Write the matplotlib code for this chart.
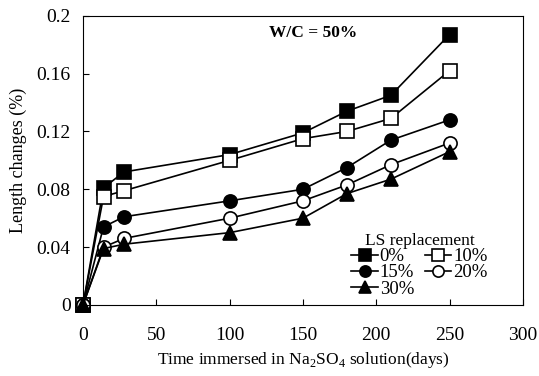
import matplotlib.pyplot as plt

plt.rcParams['font.family'] = 'Liberation Serif'
plt.rcParams['mathtext.fontset'] = 'custom'
plt.rcParams['mathtext.rm'] = 'Liberation Serif'

# Données
days = [0, 14, 28, 100, 150, 180, 210, 250]
ls0 = [0, 0.081, 0.092, 0.104, 0.119, 0.134, 0.145, 0.187]
ls10 = [0, 0.075, 0.079, 0.100, 0.115, 0.120, 0.129, 0.162]
ls15 = [0, 0.054, 0.061, 0.072, 0.080, 0.095, 0.114, 0.128]
ls20 = [0, 0.040, 0.046, 0.060, 0.072, 0.083, 0.097, 0.112]
ls30 = [0, 0.039, 0.042, 0.050, 0.060, 0.077, 0.087, 0.106]

xticks = [0, 50, 100, 150, 200, 250, 300]
yticks = [0, 0.04, 0.08, 0.12, 0.16, 0.2]
ylabels = ['0', '0.04', '0.08', '0.12', '0.16', '0.2']

fig = plt.figure(figsize=(5.39, 3.76), dpi=100)
ax = fig.add_axes([0.154, 0.189, 0.816, 0.769])

style = dict(color='black', lw=1.2, ms=9.5, mec='black', mew=1.2, clip_on=False)
ax.plot(days, ls0, marker='s', mfc='black', label='0%', **style)
ax.plot(days, ls10, marker='s', mfc='white', label='10%', **style)
ax.plot(days, ls15, marker='o', mfc='black', label='15%', **style)
ax.plot(days, ls20, marker='o', mfc='white', label='20%', **style)
ax.plot(days, ls30, marker='^', mfc='black', label='30%', **style)

ax.set_xlim(0, 300)
ax.set_ylim(0, 0.2)
ax.set_xticks(xticks)
ax.set_yticks(yticks)
ax.set_yticklabels(ylabels)
ax.tick_params(direction='in', labelsize=14, length=4)
ax.tick_params(axis='x', pad=16)
ax.tick_params(axis='y', pad=9)
for s in ax.spines.values():
    s.set_linewidth(0.8)

ax.set_xlabel('Time immersed in Na$_2$SO$_4$ solution(days)', fontsize=12.5, labelpad=4)
ax.set_ylabel('Length changes (%)', fontsize=13, labelpad=7)
ax.text(0.523, 0.94, 'W/C = 50%', transform=ax.transAxes, ha='center', va='center',
        fontsize=12.5, fontweight='bold')

h, l = ax.get_legend_handles_labels()
order = [0, 2, 4, 1, 3]
ax.legend([h[i] for i in order], [l[i] for i in order], title='LS replacement',
          ncol=2, frameon=False, loc='lower right', bbox_to_anchor=(0.95, -0.02),
          fontsize=13.5, title_fontsize=12.5, handlelength=1.4, handletextpad=0.1,
          columnspacing=0.6, labelspacing=-0.05, borderpad=0.2, markerscale=0.85)

fig.savefig('out.png', dpi=100)
